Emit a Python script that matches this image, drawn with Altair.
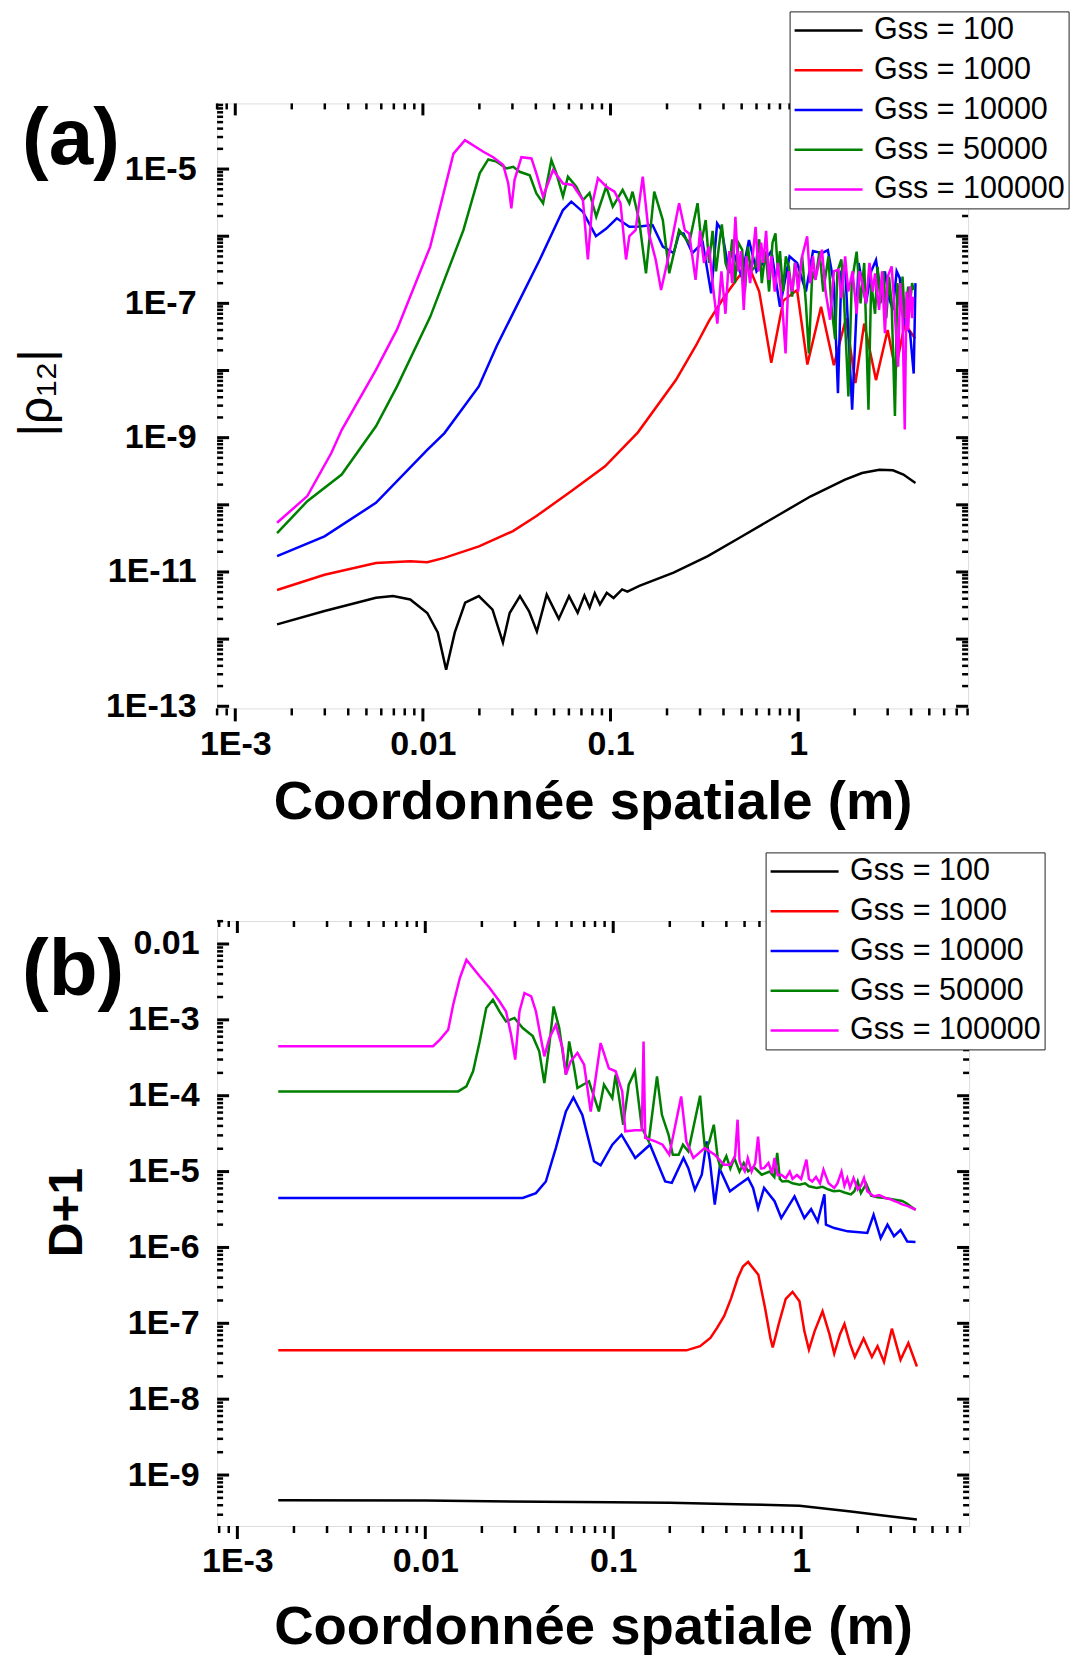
import altair as alt
import pandas as pd

FONT = "Liberation Sans"
SERIES = ["Gss = 100", "Gss = 1000", "Gss = 10000", "Gss = 50000", "Gss = 100000"]
COLORS = ["#000000", "#FF0000", "#0000FF", "#008000", "#FF00FF"]

# ---------------- Panel (a): |rho12| ----------------
A_BLACK_X = [0.00167, 0.00299, 0.00562, 0.00693, 0.00856, 0.01055, 0.0120, 0.0133, 0.01479, 0.0168,
             0.01986, 0.0235, 0.0267, 0.029, 0.0329, 0.0368, 0.0405, 0.0457, 0.053, 0.0601,
             0.0668, 0.0726, 0.0774, 0.0824, 0.0878, 0.0955, 0.1038, 0.1153, 0.123, 0.1424,
             0.2168, 0.330, 0.503, 0.766, 1.167, 1.778, 2.19, 2.71, 3.2, 3.64, 4.22]
A_BLACK_Y = [1.66e-12, 2.63e-12, 4.13e-12, 4.37e-12, 3.9e-12, 2.45e-12, 1.26e-12, 3.5e-13, 1.26e-12, 3.5e-12,
             4.37e-12, 2.75e-12, 8.9e-13, 2.45e-12, 4.37e-12, 2.6e-12, 1.3e-12, 4.6e-12, 2.0e-12, 4.37e-12,
             2.47e-12, 4.47e-12, 2.94e-12, 4.8e-12, 3.29e-12, 4.9e-12, 4.1e-12, 5.5e-12, 5.1e-12, 6.2e-12,
             9.8e-12, 1.72e-11, 3.4e-11, 6.76e-11, 1.34e-10, 2.37e-10, 2.98e-10, 3.34e-10, 3.27e-10, 2.82e-10, 2.12e-10]

A_RED_X = [0.00167, 0.00299, 0.00562, 0.00856, 0.01055, 0.0130, 0.0199, 0.0302, 0.0403, 0.0614,
           0.0935, 0.14, 0.223, 0.284, 0.335, 0.40, 0.483, 0.547, 0.62, 0.719,
           0.834, 0.987, 1.12, 1.325, 1.55, 1.8, 2.02, 2.25, 2.6, 3.0, 3.3, 3.7, 4.2]
A_RED_Y = [5.4e-12, 9.1e-12, 1.36e-11, 1.44e-11, 1.40e-11, 1.62e-11, 2.4e-11, 4.06e-11, 6.8e-11, 1.58e-10,
           3.74e-10, 1.2e-9, 7.2e-9, 2.3e-8, 5.5e-8, 1.2e-7, 2.5e-7, 3.55e-7, 1.5e-7, 1.3e-8,
           1.1e-7, 1.58e-7, 1.23e-8, 8.9e-8, 1.2e-8, 6e-8, 6.5e-9, 5e-8, 7.2e-9, 4e-8, 1e-8, 5e-8, 3e-8]

A_BLUE_X = [0.00167, 0.00299, 0.00562, 0.01055, 0.01303, 0.01986, 0.0247, 0.042, 0.0558, 0.0618,
            0.0713, 0.0836, 0.095, 0.108, 0.126, 0.1424, 0.1675, 0.19, 0.217, 0.232,
            0.245, 0.273, 0.31, 0.344, 0.37, 0.391, 0.42, 0.45, 0.5, 0.547,
            0.6, 0.65, 0.72, 0.8, 0.9, 0.987, 1.1, 1.2, 1.34, 1.44,
            1.55, 1.63, 1.7, 1.78, 1.94, 2.1, 2.3, 2.45, 2.6, 2.75,
            2.9, 3.05, 3.2, 3.35, 3.48, 3.7, 3.95, 4.13, 4.22]
A_BLUE_Y = [1.72e-11, 3.4e-11, 1.07e-10, 6.6e-10, 1.17e-9, 5.8e-9, 2.3e-8, 4.5e-7, 2.45e-6, 3.27e-6,
            2.3e-6, 1.0e-6, 1.3e-6, 1.85e-6, 1.38e-6, 1.4e-6, 1.47e-6, 7e-7, 5.6e-7, 1.1e-6,
            1.1e-6, 5.6e-7, 8e-7, 1.41e-7, 1.55e-6, 1.24e-6, 4e-7, 6e-7, 2.5e-7, 8.8e-7,
            3e-7, 4e-7, 6e-7, 8.9e-8, 5e-7, 4e-7, 1.5e-7, 6e-7, 5.6e-7, 6.2e-7,
            2e-7, 4.6e-9, 3e-7, 3.55e-7, 2.6e-9, 4e-7, 1e-7, 3e-7, 4.4e-7, 1.5e-7,
            3e-7, 1.2e-7, 8e-8, 3e-7, 2.37e-7, 5e-8, 3.6e-8, 9e-9, 2e-7]

A_GREEN_X = [0.00167, 0.00242, 0.00369, 0.00562, 0.00728, 0.01094, 0.01644, 0.0201, 0.0223, 0.0247,
             0.0279, 0.0303, 0.0328, 0.0371, 0.0402, 0.0437, 0.0484, 0.0514, 0.0558, 0.0593,
             0.0656, 0.0713, 0.0773, 0.0839, 0.0948, 0.1028, 0.116, 0.126, 0.131, 0.142,
             0.1545, 0.171, 0.19, 0.2056, 0.232, 0.2625, 0.291, 0.305, 0.3215, 0.335,
             0.35, 0.365, 0.378, 0.392, 0.41, 0.4276, 0.445, 0.46, 0.48, 0.503,
             0.52, 0.54, 0.56, 0.593, 0.62, 0.64, 0.67, 0.70, 0.73, 0.757,
             0.78, 0.80, 0.83, 0.86, 0.891, 0.929, 0.96, 1.0, 1.05, 1.1,
             1.14, 1.19, 1.235, 1.3, 1.36, 1.45, 1.5, 1.575, 1.62, 1.7,
             1.76, 1.853, 1.93, 2.05, 2.15, 2.25, 2.37, 2.45, 2.57, 2.65,
             2.75, 2.85, 2.95, 3.05, 3.15, 3.28, 3.38, 3.5, 3.6, 3.7,
             3.86, 3.95, 4.05, 4.13]
A_GREEN_Y = [3.8e-11, 1.13e-10, 2.82e-10, 1.48e-9, 5.8e-9, 6.3e-8, 1.23e-6, 8.7e-6, 1.39e-5, 1.29e-5,
             1.02e-5, 1.08e-5, 9.1e-6, 8.1e-6, 4.36e-6, 3.1e-6, 1.36e-5, 8.7e-6, 3.9e-6, 7.7e-6,
             5.5e-6, 3.45e-6, 4.4e-6, 1.95e-6, 5.5e-6, 2.75e-6, 4.9e-6, 3.1e-6, 4.6e-6, 1.74e-6,
             2.8e-7, 4.6e-6, 1.74e-6, 2.8e-7, 1.23e-6, 7.9e-7, 3.1e-6, 8e-7, 1.74e-6, 4e-7,
             1.2e-6, 3e-7, 7e-7, 1.5e-6, 4e-7, 2.8e-7, 9e-7, 2e-7, 8e-7, 6.3e-7,
             1.5e-7, 7e-7, 3e-7, 3.55e-7, 9e-7, 2e-7, 6e-7, 1.5e-7, 8e-7, 1.1e-6,
             3e-7, 6e-7, 1.5e-7, 5e-7, 3.55e-7, 1.26e-7, 4e-7, 2e-7, 5e-7, 1e-7,
             1.8e-8, 3e-7, 2.24e-7, 6e-7, 1.5e-7, 5e-7, 1e-7, 2.9e-8, 3e-7, 4.5e-7,
             1e-7, 4.1e-9, 2e-7, 5.9e-7, 1e-7, 4e-7, 2.6e-9, 2e-7, 7e-8, 3.5e-7,
             1e-7, 3e-7, 6e-8, 2.5e-7, 1e-7, 2.1e-9, 2e-7, 8e-8, 2.5e-7, 6e-8,
             1.78e-7, 1e-7, 2e-7, 1.58e-7]

A_MAGENTA_X = [0.00167, 0.00242, 0.00325, 0.00369, 0.00562, 0.00728, 0.01094, 0.01455, 0.01676, 0.021,
               0.0237, 0.0268, 0.0285, 0.0296, 0.0308, 0.0335, 0.0379, 0.0402, 0.0437, 0.0494,
               0.0558, 0.063, 0.0713, 0.0757, 0.0801, 0.0857, 0.0948, 0.105, 0.113, 0.121,
               0.126, 0.136, 0.1485, 0.16, 0.174, 0.186, 0.2056, 0.232, 0.249, 0.2625,
               0.284, 0.30, 0.315, 0.335, 0.35, 0.371, 0.39, 0.41, 0.43, 0.445,
               0.463, 0.48, 0.495, 0.513, 0.53, 0.555, 0.593, 0.615, 0.635, 0.652,
               0.675, 0.698, 0.72, 0.75, 0.78, 0.822, 0.857, 0.89, 0.93, 0.968,
               1.0, 1.05, 1.117, 1.16, 1.2, 1.235, 1.29, 1.34, 1.4, 1.48,
               1.55, 1.64, 1.7, 1.78, 1.85, 1.95, 2.05, 2.12, 2.18, 2.3,
               2.4, 2.5, 2.57, 2.7, 2.8, 2.9, 3.0, 3.15, 3.25, 3.41,
               3.5, 3.6, 3.7, 3.78, 3.86, 3.95, 4.05, 4.1]
A_MAGENTA_Y = [5.4e-11, 1.35e-10, 5.9e-10, 1.3e-9, 1.02e-8, 4.1e-8, 7e-7, 1.7e-5, 2.7e-5, 1.81e-5,
               1.5e-5, 1.15e-5, 6.1e-6, 2.6e-6, 6.9e-6, 1.5e-5, 1.44e-5, 8.7e-6, 3.9e-6, 9.7e-6,
               6.1e-6, 5.8e-6, 3.45e-6, 4.5e-7, 3.1e-6, 7.3e-6, 5.5e-6, 4.6e-6, 3.1e-6, 4.5e-7,
               1.0e-6, 1.23e-6, 7.7e-6, 1.1e-6, 4.5e-7, 1.58e-7, 5.6e-7, 3.1e-6, 1.23e-6, 1.1e-6,
               2.24e-7, 1.2e-6, 4e-7, 7e-7, 2e-7, 5e-8, 3e-7, 7e-8, 6e-7, 2e-7,
               1.95e-6, 3e-7, 6e-7, 8e-8, 5e-7, 2e-7, 1.38e-6, 3e-7, 8e-7, 4e-7,
               1.2e-6, 2.24e-7, 5e-7, 1.5e-7, 4e-7, 1e-7, 1.8e-8, 3e-7, 1.5e-7, 4e-7,
               1.5e-7, 5e-7, 1e-6, 2e-7, 5e-7, 2.24e-7, 4e-7, 6.3e-7, 1.5e-7, 5.7e-8,
               3e-7, 3.2e-7, 1.2e-7, 5e-7, 1.5e-7, 3e-7, 7e-8, 3e-7, 2.24e-7, 1e-7,
               4e-7, 1.5e-7, 2.8e-7, 8e-8, 3e-7, 3.6e-8, 2.5e-7, 3.55e-7, 1e-7, 1.14e-8,
               2e-7, 6e-8, 1.32e-9, 1.5e-7, 4e-8, 1.8e-7, 6e-8, 1.26e-7]

# ---------------- Panel (b): D+1 ----------------
B_BLACK_X = [0.00165, 0.01, 0.0975, 0.2, 0.522, 0.98, 1.84, 2.8, 4.13]
B_BLACK_Y = [4.65e-10, 4.6e-10, 4.37e-10, 4.3e-10, 4.1e-10, 3.95e-10, 3.3e-10, 2.9e-10, 2.6e-10]

B_RED_X = [0.00165, 0.245, 0.29, 0.329, 0.357, 0.389, 0.423, 0.46, 0.49, 0.522,
           0.592, 0.643, 0.686, 0.706, 0.76, 0.828, 0.9, 0.98, 1.04, 1.1,
           1.18, 1.30, 1.415, 1.50, 1.61, 1.70, 1.82, 1.93, 2.15, 2.38,
           2.55, 2.76, 3.04, 3.38, 3.72, 4.13]
B_RED_Y = [4.4e-8, 4.4e-8, 5e-8, 6.4e-8, 8.7e-8, 1.24e-7, 2.1e-7, 3.95e-7, 5.6e-7, 6.45e-7,
           4.37e-7, 1.58e-7, 6.4e-8, 4.8e-8, 9.8e-8, 2.1e-7, 2.6e-7, 1.95e-7, 7.9e-8, 4.5e-8,
           7.9e-8, 1.44e-7, 7.2e-8, 4e-8, 7.2e-8, 9.8e-8, 5.4e-8, 3.6e-8, 6.3e-8, 3.6e-8,
           5e-8, 3.1e-8, 8.5e-8, 3.3e-8, 5.5e-8, 2.7e-8]

B_BLUE_X = [0.00165, 0.033, 0.0388, 0.0438, 0.0495, 0.056, 0.0614, 0.0685, 0.079, 0.0857,
            0.0989, 0.1107, 0.131, 0.157, 0.189, 0.205, 0.2366, 0.251, 0.272, 0.296,
            0.314, 0.327, 0.347, 0.368, 0.418, 0.462, 0.522, 0.555, 0.59, 0.635,
            0.722, 0.784, 0.922, 1.04, 1.13, 1.225, 1.33, 1.355, 1.5, 1.77,
            2.25, 2.43, 2.65, 2.88, 3.12, 3.38, 3.67, 4.06]
B_BLUE_Y = [4.49e-6, 4.49e-6, 5.2e-6, 7.4e-6, 2.04e-5, 6.2e-5, 9.5e-5, 5.6e-5, 1.37e-5, 1.21e-5,
            2.26e-5, 3.06e-5, 1.51e-5, 2.26e-5, 7.4e-6, 7.1e-6, 1.51e-5, 1.11e-5, 5.75e-6, 9.1e-6,
            2.5e-5, 1.37e-5, 3.66e-6, 1.1e-5, 5.5e-6, 6.6e-6, 8.2e-6, 6.1e-6, 3.3e-6, 6.1e-6,
            4.07e-6, 2.44e-6, 4.7e-6, 2.44e-6, 3.2e-6, 2.2e-6, 5e-6, 2e-6, 1.8e-6, 1.63e-6,
            1.55e-6, 2.7e-6, 1.33e-6, 2e-6, 1.41e-6, 1.7e-6, 1.2e-6, 1.18e-6]

B_GREEN_X = [0.00165, 0.01496, 0.01655, 0.01796, 0.01947, 0.0211, 0.0229, 0.0248, 0.0269, 0.0298,
             0.033, 0.0373, 0.0404, 0.043, 0.0457, 0.0482, 0.0516, 0.056, 0.0583, 0.062,
             0.0645, 0.0743, 0.0839, 0.0893, 0.0989, 0.103, 0.113, 0.121, 0.1305, 0.142,
             0.1545, 0.171, 0.1816, 0.197, 0.2075, 0.223, 0.235, 0.251, 0.29, 0.3,
             0.309, 0.325, 0.343, 0.36, 0.373, 0.40, 0.42, 0.441, 0.47, 0.495,
             0.522, 0.56, 0.617, 0.68, 0.72, 0.746, 0.77, 0.794, 0.85, 0.9,
             0.98, 1.05, 1.1, 1.21, 1.3, 1.4, 1.49, 1.6, 1.7, 1.84,
             1.92, 2.0, 2.08, 2.22, 2.36, 2.55, 2.8, 3.1, 3.45, 3.65,
             3.82, 4.07]
B_GREEN_Y = [1.14e-4, 1.14e-4, 1.33e-4, 2.1e-4, 5.2e-4, 1.43e-3, 1.84e-3, 1.29e-3, 9.55e-4, 1.06e-3,
             7.8e-4, 6.1e-4, 3.85e-4, 1.47e-4, 4.7e-4, 1.5e-3, 7.8e-4, 1.9e-4, 5.2e-4, 2.3e-4,
             1.26e-4, 1.55e-4, 6.2e-5, 1.4e-4, 9.3e-5, 1.9e-4, 4.15e-5, 1.4e-4, 2.1e-4, 3.76e-5,
             2.5e-5, 1.8e-4, 5.6e-5, 3.06e-5, 1.67e-5, 1.67e-5, 2.26e-5, 1.85e-5, 1.0e-4, 3.76e-5,
             1.85e-5, 2.5e-5, 4.15e-5, 1.5e-5, 1.11e-5, 1.6e-5, 1.1e-5, 1.51e-5, 1.0e-5, 1.3e-5,
             1.01e-5, 1.15e-5, 9.1e-6, 1.0e-5, 8.5e-6, 1.76e-5, 8e-6, 7.4e-6, 7.5e-6, 7e-6,
             6.7e-6, 7e-6, 6.4e-6, 6.1e-6, 6.3e-6, 5.8e-6, 5.5e-6, 5.6e-6, 5.3e-6, 5.0e-6,
             5.5e-6, 7.4e-6, 5.2e-6, 6.9e-6, 4.8e-6, 4.6e-6, 4.49e-6, 4.3e-6, 4.1e-6, 3.8e-6,
             3.5e-6, 3.14e-6]

B_MAGENTA_X = [0.00165, 0.011, 0.01196, 0.01324, 0.01407, 0.01527, 0.01655, 0.01947, 0.022, 0.0248,
               0.0269, 0.0286, 0.0301, 0.0317, 0.0337, 0.0366, 0.0388, 0.0412, 0.043, 0.0457,
               0.0495, 0.0537, 0.056, 0.0594, 0.0645, 0.07, 0.0759, 0.0806, 0.0857, 0.0948,
               0.103, 0.1117, 0.116, 0.1305, 0.142, 0.145, 0.148, 0.1675, 0.183, 0.1988,
               0.23, 0.245, 0.267, 0.307, 0.347, 0.389, 0.42, 0.445, 0.459, 0.47,
               0.478, 0.501, 0.52, 0.545, 0.57, 0.59, 0.61, 0.635, 0.67, 0.70,
               0.722, 0.75, 0.784, 0.828, 0.87, 0.9, 0.95, 1.0, 1.067, 1.1,
               1.145, 1.2, 1.26, 1.315, 1.4, 1.5, 1.56, 1.64, 1.7, 1.76,
               1.82, 1.9, 2.0, 2.08, 2.16, 2.25, 2.44, 2.6, 2.8, 3.0,
               3.12, 3.3, 3.45, 3.7, 4.07]
B_MAGENTA_Y = [4.48e-4, 4.5e-4, 5.5e-4, 7.4e-4, 1.58e-3, 3.56e-3, 6.2e-3, 3.75e-3, 2.63e-3, 1.76e-3,
               1.29e-3, 6.4e-4, 3e-4, 1.29e-3, 2.26e-3, 2.04e-3, 1.29e-3, 5.75e-4, 3.3e-4, 5.75e-4,
               8.6e-4, 4.27e-4, 1.9e-4, 2.84e-4, 3.66e-4, 2.56e-4, 6.2e-5, 1.7e-4, 4.95e-4, 2.3e-4,
               2.1e-4, 1.14e-4, 3.4e-5, 3.5e-5, 3.5e-5, 5.2e-4, 2.78e-5, 2.5e-5, 2.26e-5, 1.67e-5,
               9.8e-5, 2.5e-5, 1.51e-5, 2.04e-5, 1.67e-5, 1.23e-5, 1.23e-5, 1.6e-5, 4.83e-5, 1.4e-5,
               1.23e-5, 1.01e-5, 1.5e-5, 1.0e-5, 1.3e-5, 2.9e-5, 1.1e-5, 1.11e-5, 1.3e-5, 9.5e-6,
               1.51e-5, 9e-6, 9.1e-6, 8.2e-6, 1.0e-5, 8e-6, 9e-6, 8e-6, 1.44e-5, 8e-6,
               7.4e-6, 8.5e-6, 7e-6, 1.06e-5, 7e-6, 6.1e-6, 7e-6, 1e-5, 6.5e-6, 8.2e-6,
               6.2e-6, 8.2e-6, 5.8e-6, 6.5e-6, 8.2e-6, 5.5e-6, 4.7e-6, 4.9e-6, 4.49e-6, 4.3e-6,
               4.1e-6, 3.9e-6, 3.7e-6, 3.5e-6, 3.14e-6]

# ---------------- Axes ----------------
A_X_DOMAIN = [8.0e-4, 8.05]
B_X_DOMAIN = [7.8e-4, 7.83]
A_Y_DOMAIN = [9.3e-14, 9.5e-5]
B_Y_DOMAIN = [2.13e-10, 0.0201]
X_LABEL_VALUES = [0.001, 0.01, 0.1, 1]
A_Y_LABEL_VALUES = [1e-13, 1e-11, 1e-9, 1e-7, 1e-5]
B_Y_LABEL_VALUES = [1e-9, 1e-8, 1e-7, 1e-6, 1e-5, 1e-4, 1e-3, 1e-2]
X_LABEL_EXPR = ("datum.value < 0.005 ? '1E-3' : datum.value < 0.05 ? '0.01' : "
                "datum.value < 0.5 ? '0.1' : '1'")
A_Y_LABEL_EXPR = "'1E' + round(log(datum.value) / LN10)"
B_Y_LABEL_EXPR = "datum.value > 0.005 ? '0.01' : '1E' + round(log(datum.value) / LN10)"


def decade_ticks(lo, hi):
    majors, minors = [], []
    for e in range(-15, 3):
        base = 10.0 ** e
        if lo <= base <= hi:
            majors.append(base)
        for k in range(2, 10):
            v = k * base
            if lo <= v <= hi:
                minors.append(v)
    return majors, minors


def panel(data, xdom, ydom, ylab_vals, ylab_expr, ytitle, ytitle_weight, ytitle_size,
          ytitle_x, ytitle_y, ylabel_pad, xtitle_y, width, height, legend_x, legend_y,
          tag, tag_y):
    xscale = alt.Scale(type="log", domain=xdom, nice=False)
    yscale = alt.Scale(type="log", domain=ydom, nice=False)
    xaxis = alt.Axis(title="Coordonnée spatiale (m)", titleFont=FONT, titleFontSize=54.5,
                     titleFontWeight="bold", titleColor="black", titleY=xtitle_y,
                     titleBaseline="top", titleAlign="center",
                     values=X_LABEL_VALUES, labelExpr=X_LABEL_EXPR, labelFont=FONT,
                     labelFontSize=34, labelFontWeight="bold", labelColor="black",
                     labelPadding=19, labelFlush=False, labelOverlap=False,
                     ticks=False, tickSize=0, domain=False, grid=False)
    yaxis = alt.Axis(title=ytitle, titleFont=FONT, titleFontSize=ytitle_size,
                     titleFontWeight=ytitle_weight, titleColor="black", titleAngle=270,
                     titleX=ytitle_x, titleY=ytitle_y, titleAlign="center",
                     titleBaseline="middle",
                     values=ylab_vals, labelExpr=ylab_expr, labelFont=FONT,
                     labelFontSize=34, labelFontWeight="bold", labelColor="black",
                     labelPadding=ylabel_pad, labelFlush=False, labelOverlap=False,
                     ticks=False, tickSize=0, domain=False, grid=False)
    cscale = alt.Scale(domain=SERIES, range=COLORS)
    legend = alt.Legend(title=None, orient="none", legendX=legend_x, legendY=legend_y,
                        symbolType="M-1,0H1", symbolSize=4624, symbolStrokeWidth=2.5,
                        labelFont=FONT, labelFontSize=30.5, labelColor="black",
                        labelOffset=10, labelLimit=400, rowPadding=8.75, padding=3.5,
                        clipHeight=31, strokeColor="#222222", fillColor="white")

    layers = []
    xmaj, xmin = decade_ticks(*xdom)
    ymaj, ymin = decade_ticks(*ydom)

    def xrule(vals, y0, y1, sw):
        return alt.Chart(pd.DataFrame({"x": vals})).mark_rule(color="black", strokeWidth=sw).encode(
            x=alt.X("x:Q", scale=xscale, axis=xaxis), y=alt.value(y0), y2=alt.value(y1))

    def yrule(vals, x0, x1, sw):
        return alt.Chart(pd.DataFrame({"y": vals})).mark_rule(color="black", strokeWidth=sw).encode(
            y=alt.Y("y:Q", scale=yscale, axis=yaxis), x=alt.value(x0), x2=alt.value(x1))

    layers += [
        xrule(xmaj, height, height + 13, 3), xrule(xmin, height, height + 7, 2.5),
        xrule(xmaj, 0, 12, 3), xrule(xmin, 0, 6, 2.5),
        yrule(ymaj, 0, 12, 3), yrule(ymin, 0, 6, 2.5),
        yrule(ymaj, width, width - 12, 3), yrule(ymin, width, width - 6, 2.5),
    ]

    for name, (xs, ys) in zip(SERIES, data):
        assert len(xs) == len(ys), name
        df = pd.DataFrame({"x": xs, "y": ys, "series": name, "i": list(range(len(xs)))})
        layers.append(
            alt.Chart(df).mark_line(strokeWidth=2.5).encode(
                x=alt.X("x:Q", scale=xscale, axis=xaxis),
                y=alt.Y("y:Q", scale=yscale, axis=yaxis),
                color=alt.Color("series:N", scale=cscale, legend=legend),
                order=alt.Order("i:Q"),
            )
        )

    layers.append(
        alt.Chart(pd.DataFrame({"t": [tag]})).mark_text(
            font=FONT, fontSize=80, fontWeight="bold", align="left",
            baseline="alphabetic", color="black").encode(
            text="t:N", x=alt.value(-195), y=alt.value(tag_y))
    )
    return alt.layer(*layers).properties(width=width, height=height)


pa = panel([(A_BLACK_X, A_BLACK_Y), (A_RED_X, A_RED_Y), (A_BLUE_X, A_BLUE_Y),
            (A_GREEN_X, A_GREEN_Y), (A_MAGENTA_X, A_MAGENTA_Y)],
           A_X_DOMAIN, A_Y_DOMAIN, A_Y_LABEL_VALUES, A_Y_LABEL_EXPR, "|ρ₁₂|", "normal", 48,
           -180, 289, 21, 67, 751, 605, 572.5, -92, "(a)", 61)
pb = panel([(B_BLACK_X, B_BLACK_Y), (B_RED_X, B_RED_Y), (B_BLUE_X, B_BLUE_Y),
            (B_GREEN_X, B_GREEN_Y), (B_MAGENTA_X, B_MAGENTA_Y)],
           B_X_DOMAIN, B_Y_DOMAIN, B_Y_LABEL_VALUES, B_Y_LABEL_EXPR, "D+1", "bold", 48,
           -149.6, 291, 18, 75, 752, 605, 548.5, -68.6, "(b)", 74)

chart = alt.vconcat(pa, pb, spacing=21.6, padding={"left": 4.1, "top": 2.4, "right": 0, "bottom": 0}
                    ).resolve_scale(color="independent").resolve_legend(color="independent"
                    ).configure_view(stroke="black", strokeWidth=3
                    ).configure_legend(strokeWidth=2
                    ).configure(font=FONT, background="white")

chart.save("out.html", embed_options={"renderer": "svg", "actions": False})
